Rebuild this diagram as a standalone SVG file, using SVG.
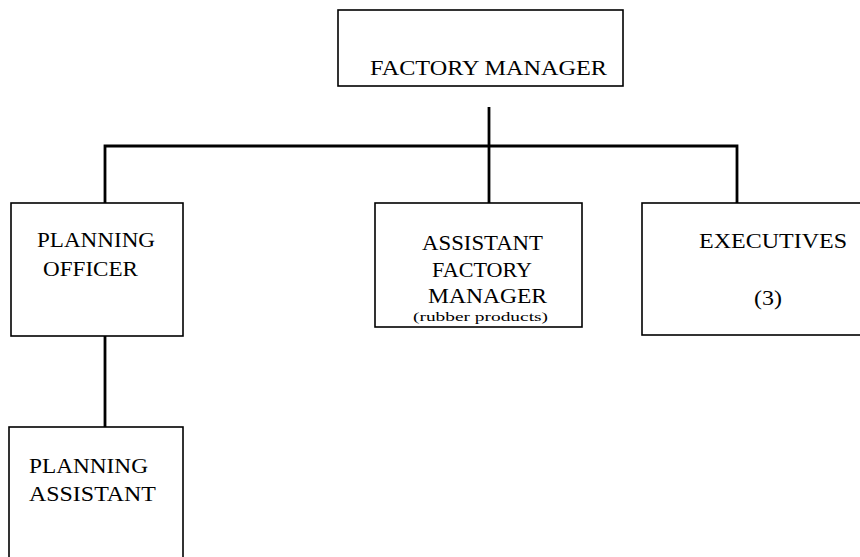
<svg xmlns="http://www.w3.org/2000/svg" width="860" height="557" viewBox="0 0 860 557">
  <style>
    .box { fill: #ffffff; stroke: #000000; stroke-width: 1.6; }
    .link { fill: none; stroke: #000000; stroke-width: 2.8; stroke-linecap: butt; }
    .lbl { font-family: "Liberation Serif", "Times New Roman", serif; font-size: 21px; fill: #000000; }
    .small { font-family: "Liberation Serif", "Times New Roman", serif; font-size: 12px; fill: #000000; }
  </style>
  <rect x="0" y="0" width="860" height="557" fill="#ffffff"/>

  <!-- connectors -->
  <g id="connectors">
    <line class="link" x1="489" y1="107" x2="489" y2="203"/>
    <polyline class="link" points="105,203 105,146 737,146 737,203"/>
    <line class="link" x1="105" y1="336" x2="105" y2="433"/>
  </g>

  <g id="factory-manager">
    <rect class="box" x="338" y="10" width="285" height="76"/>
    <text class="lbl" x="370" y="75" font-size="19" textLength="237" lengthAdjust="spacingAndGlyphs">FACTORY MANAGER</text>
  </g>

  <g id="planning-officer">
    <rect class="box" x="11" y="203" width="172" height="133"/>
    <text class="lbl" x="37" y="247" textLength="118" lengthAdjust="spacingAndGlyphs">PLANNING</text>
    <text class="lbl" x="43" y="276" textLength="95" lengthAdjust="spacingAndGlyphs">OFFICER</text>
  </g>

  <g id="assistant-factory-manager">
    <rect class="box" x="375" y="203" width="207" height="124"/>
    <text class="lbl" x="422" y="250" textLength="121" lengthAdjust="spacingAndGlyphs">ASSISTANT</text>
    <text class="lbl" x="432" y="277" textLength="100" lengthAdjust="spacingAndGlyphs">FACTORY</text>
    <text class="lbl" x="428" y="303" textLength="119" lengthAdjust="spacingAndGlyphs">MANAGER</text>
    <text class="small" x="413" y="321" textLength="135" lengthAdjust="spacingAndGlyphs">(rubber products)</text>
  </g>

  <g id="executives">
    <rect class="box" x="642" y="203" width="230" height="132"/>
    <text class="lbl" x="699" y="248" textLength="148" lengthAdjust="spacingAndGlyphs">EXECUTIVES</text>
    <text class="lbl" x="754" y="305" textLength="28" lengthAdjust="spacingAndGlyphs">(3)</text>
  </g>

  <g id="planning-assistant">
    <rect class="box" x="9" y="427" width="174" height="150"/>
    <text class="lbl" x="29" y="473" textLength="119" lengthAdjust="spacingAndGlyphs">PLANNING</text>
    <text class="lbl" x="29" y="501" textLength="127" lengthAdjust="spacingAndGlyphs">ASSISTANT</text>
  </g>
</svg>
